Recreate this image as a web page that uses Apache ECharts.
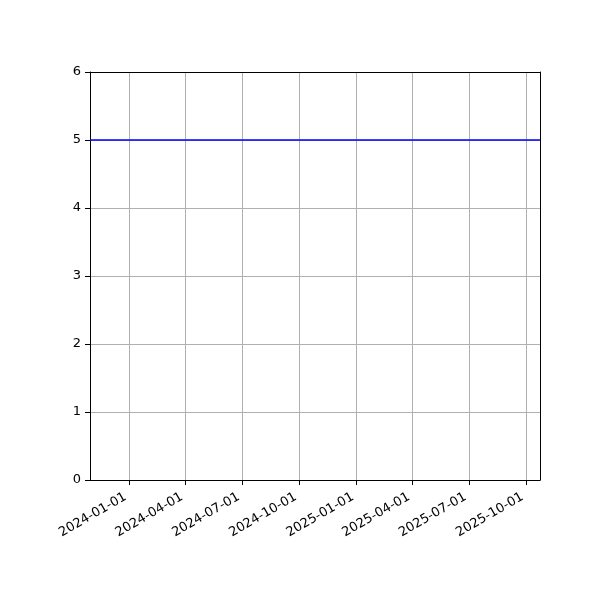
<!DOCTYPE html>
<html>
<head>
<meta charset="utf-8">
<script src="https://cdn.jsdelivr.net/npm/echarts@6/dist/echarts.min.js"></script>
<style>
html, body { margin: 0; padding: 0; background: #fff; }
#main { width: 600px; height: 600px; }
</style>
</head>
<body>
<div id="main"></div>
<script>
// x range of the axes and the constant line
var xStart = '2023-10-30T05:00:00';
var xEnd = '2025-10-23T12:00:00';
var lineValue = 5;
var tickDates = ['2024-01-01', '2024-04-01', '2024-07-01', '2024-10-01',
	'2025-01-01', '2025-04-01', '2025-07-01', '2025-10-01'];
var yTicks = [0, 1, 2, 3, 4, 5, 6];

function toTime(s) { return new Date(s).getTime(); }

var tickValues = tickDates.map(function(d) { return toTime(d + 'T00:00:00'); });
var labelByTime = {};
tickDates.forEach(function(d, i) { labelByTime[tickValues[i]] = d; });

var myChart = echarts.init(document.getElementById('main'));

// plain frame axes for the top and right edges
var frameLine = { show: true, onZero: false, lineStyle: { color: '#000', width: 1 } };

var option = {
	backgroundColor: '#fff',
	animation: false,
	textStyle: { fontFamily: 'DejaVu Sans' },
	grid: { left: 90, right: 60, top: 72, bottom: 120 },
	xAxis: [{
		type: 'value',
		scale: true,
		min: toTime(xStart),
		max: toTime(xEnd),
		axisLine: frameLine,
		axisTick: { show: true, length: 5, lineStyle: { color: '#000' }, customValues: tickValues },
		axisLabel: {
			customValues: tickValues,
			rotate: 30,
			color: '#000',
			fontSize: 13,
			margin: 14,
			padding: [0, 4, 0, 0],
			formatter: function(v) { return labelByTime[v] || ''; }
		},
		splitLine: { show: true, lineStyle: { color: '#b0b0b0', width: 1 } },
		z: 3
	}, {
		type: 'value',
		position: 'top',
		min: 0, max: 1,
		axisLine: frameLine,
		axisTick: { show: false },
		axisLabel: { show: false },
		splitLine: { show: false },
		z: 3
	}],
	yAxis: [{
		type: 'value',
		min: yTicks[0],
		max: yTicks[yTicks.length - 1],
		interval: 1,
		axisLine: frameLine,
		axisTick: { show: true, length: 5, lineStyle: { color: '#000' } },
		axisLabel: { color: '#000', fontSize: 13, margin: 9 },
		splitLine: { show: true, lineStyle: { color: '#b0b0b0', width: 1 } },
		z: 3
	}, {
		type: 'value',
		position: 'right',
		min: 0, max: 1,
		axisLine: frameLine,
		axisTick: { show: false },
		axisLabel: { show: false },
		splitLine: { show: false },
		z: 3
	}],
	series: [{
		type: 'line',
		data: [[toTime(xStart), lineValue], [toTime(xEnd), lineValue]],
		showSymbol: false,
		lineStyle: { color: '#0000ff', width: 1.5 },
		z: 5
	}]
};

myChart.setOption(option);
</script>
</body>
</html>
